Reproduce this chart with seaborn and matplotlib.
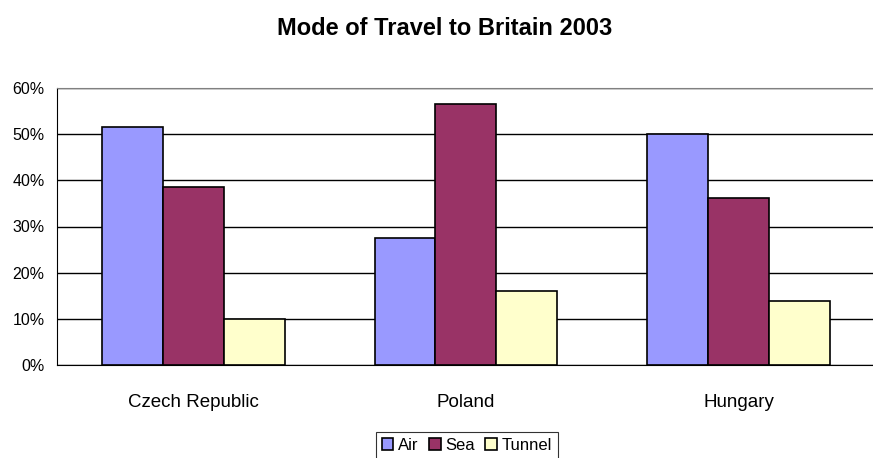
import matplotlib
matplotlib.use('Agg')
import matplotlib.pyplot as plt
import pandas as pd
import seaborn as sns
from matplotlib.ticker import PercentFormatter

countries = ['Czech Republic', 'Poland', 'Hungary']
modes = ['Air', 'Sea', 'Tunnel']
air = [51.5, 27.5, 50.0]
sea = [38.5, 56.5, 36.1]
tunnel = [10.0, 16.0, 13.8]
colors = ['#9999FF', '#993366', '#FFFFCC']

df = pd.DataFrame({'country': countries * 3,
                   'mode': [m for m in modes for _ in countries],
                   'share': air + sea + tunnel})

sns.set_style('white')
plt.rcParams['font.family'] = ['Liberation Sans', 'DejaVu Sans']
plt.rcParams['text.color'] = 'black'
plt.rcParams['xtick.color'] = 'black'
plt.rcParams['ytick.color'] = 'black'

fig = plt.figure(figsize=(8.73, 4.58), dpi=100)
ax = fig.add_axes([57 / 873, 1 - 365 / 458, 1 - 57 / 873 + 0.002, (365 - 88) / 458])

sns.barplot(data=df, x='country', y='share', hue='mode', order=countries, hue_order=modes,
            palette=colors, width=0.67, gap=0, edgecolor='black', linewidth=1.2,
            saturation=1, ax=ax, legend=True)

ax.set_ylim(0, 60)
ax.set_xlim(-0.5, 2.5)
ax.set_yticks(range(0, 61, 10))
ax.yaxis.set_major_formatter(PercentFormatter(decimals=0))
ax.grid(axis='y', color='black', linewidth=1)
ax.set_axisbelow(True)
ax.set_xlabel('')
ax.set_ylabel('')
ax.tick_params(axis='y', length=0, labelsize=11.5, pad=9)
ax.tick_params(axis='x', length=0, labelsize=13.5, pad=21)
ax.spines['right'].set_visible(False)
ax.spines['top'].set_color('#808080')
ax.spines['left'].set_color('black')
ax.spines['bottom'].set_color('black')

handles, labels = ax.get_legend_handles_labels()
ax.get_legend().remove()
leg = fig.legend(handles, labels, loc='upper center', bbox_to_anchor=(467 / 873, 1 - 432 / 458),
                 ncol=3, frameon=True, fancybox=False, edgecolor='black', fontsize=12,
                 handlelength=0.7, handleheight=0.7, handletextpad=0.3, columnspacing=0.6,
                 borderpad=0.35, borderaxespad=0)
leg.get_frame().set_linewidth(0.8)

fig.suptitle('Mode of Travel to Britain 2003', x=444.5 / 873, y=1 - 17 / 458, va='top',
             fontsize=17, fontweight='bold')

fig.savefig('out.png', dpi=100)
